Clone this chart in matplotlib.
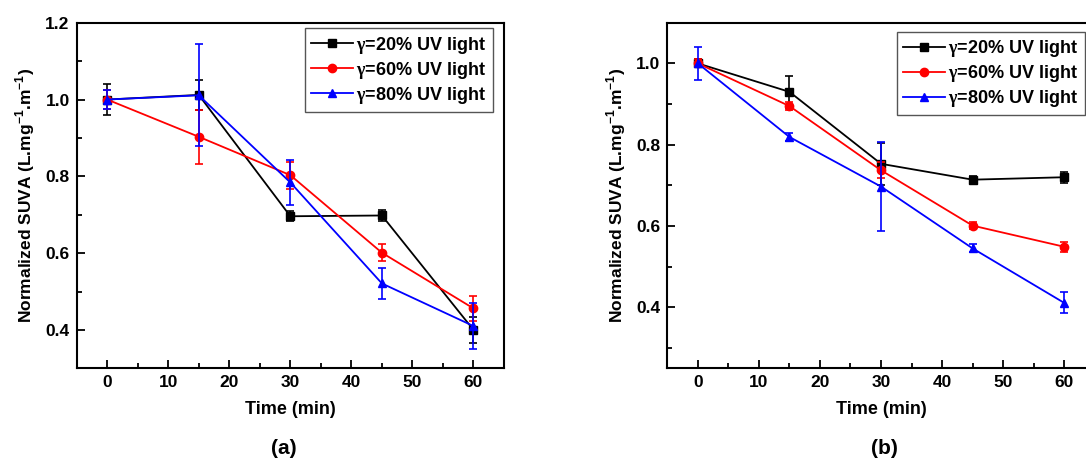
import matplotlib
matplotlib.use("Agg")
import matplotlib.pyplot as plt
from matplotlib.ticker import MultipleLocator, FormatStrFormatter

plt.rcParams['font.family'] = ['Liberation Sans', 'DejaVu Sans']
plt.rcParams['font.weight'] = 'bold'
plt.rcParams['mathtext.fontset'] = 'custom'
plt.rcParams['mathtext.rm'] = 'Liberation Serif'
plt.rcParams['mathtext.bf'] = 'Liberation Sans:bold'

time = [0, 15, 30, 45, 60]
labels = [r"$\mathrm{\gamma}$=20% UV light",
          r"$\mathrm{\gamma}$=60% UV light",
          r"$\mathrm{\gamma}$=80% UV light"]
colors = ["black", "red", "blue"]
markers = ["s", "o", "^"]

# panel (a)
a_vals = [[1.00, 1.012, 0.696, 0.698, 0.400],
          [1.00, 0.903, 0.803, 0.601, 0.456],
          [1.00, 1.011, 0.784, 0.521, 0.410]]
a_err = [[0.040, 0.040, 0.013, 0.014, 0.033],
         [0.025, 0.070, 0.035, 0.022, 0.033],
         [0.024, 0.133, 0.058, 0.041, 0.060]]

# panel (b)
b_vals = [[1.00, 0.930, 0.753, 0.714, 0.720],
          [1.00, 0.895, 0.737, 0.601, 0.549],
          [1.00, 0.819, 0.697, 0.545, 0.411]]
b_err = [[0.010, 0.040, 0.052, 0.008, 0.014],
         [0.010, 0.010, 0.020, 0.008, 0.012],
         [0.040, 0.010, 0.110, 0.010, 0.026]]

fig = plt.figure(figsize=(10.86, 4.63), dpi=100)
axa = fig.add_axes([0.0706, 0.2045, 0.3935, 0.7464])
axb = fig.add_axes([0.6145, 0.2045, 0.3935, 0.7464])

panels = [(axa, a_vals, a_err, (0.3, 1.2), "(a)", 0.261, 0.534, 0.984),
          (axb, b_vals, b_err, (0.25, 1.1), "(b)", 0.814, 0.537, 0.974)]
for ax, vals, errs, ylim, tag, tx, lx, ly in panels:
    for v, e, c, m, lab in zip(vals, errs, colors, markers, labels):
        ax.errorbar(time, v, yerr=e, fmt='none', ecolor=c, elinewidth=1.2,
                    capsize=3.2, capthick=1.2)
        ax.plot(time, v, color=c, marker=m, ms=6, lw=1.3, label=lab)
    ax.set_xlim(-5, 65)
    ax.set_ylim(*ylim)
    ax.xaxis.set_major_locator(MultipleLocator(10))
    ax.xaxis.set_minor_locator(MultipleLocator(5))
    ax.yaxis.set_major_locator(MultipleLocator(0.2))
    ax.yaxis.set_minor_locator(MultipleLocator(0.1))
    ax.yaxis.set_major_formatter(FormatStrFormatter('%.1f'))
    ax.tick_params(which='both', direction='in', labelsize=12.5, width=1.3)
    ax.tick_params(which='major', length=6, pad=5)
    ax.tick_params(which='minor', length=3.5)
    for s in ax.spines.values():
        s.set_linewidth(1.5)
    ax.set_xlabel("Time (min)", fontsize=13, fontweight='bold', labelpad=8)
    ax.set_ylabel(r"Normalized SUVA (L.mg$^{\mathbf{-1}}$.m$^{\mathbf{-1}}$)",
                  fontsize=12.5, fontweight='bold', labelpad=6)
    for lbl in ax.get_xticklabels() + ax.get_yticklabels():
        lbl.set_fontweight('bold')
    fig.text(tx, 0.032, tag, fontsize=15, fontweight='bold', ha='center',
             va='center')
    lg = ax.legend(loc='upper left', bbox_to_anchor=(lx, ly), fancybox=False,
                   edgecolor='#555555', framealpha=1, handlelength=2.3,
                   handletextpad=0.2, borderpad=0.35, labelspacing=0.22,
                   borderaxespad=0, prop={'weight': 'bold', 'size': 13})
    lg.get_frame().set_linewidth(1.0)

fig.savefig("out.png", dpi=100, facecolor='white')
